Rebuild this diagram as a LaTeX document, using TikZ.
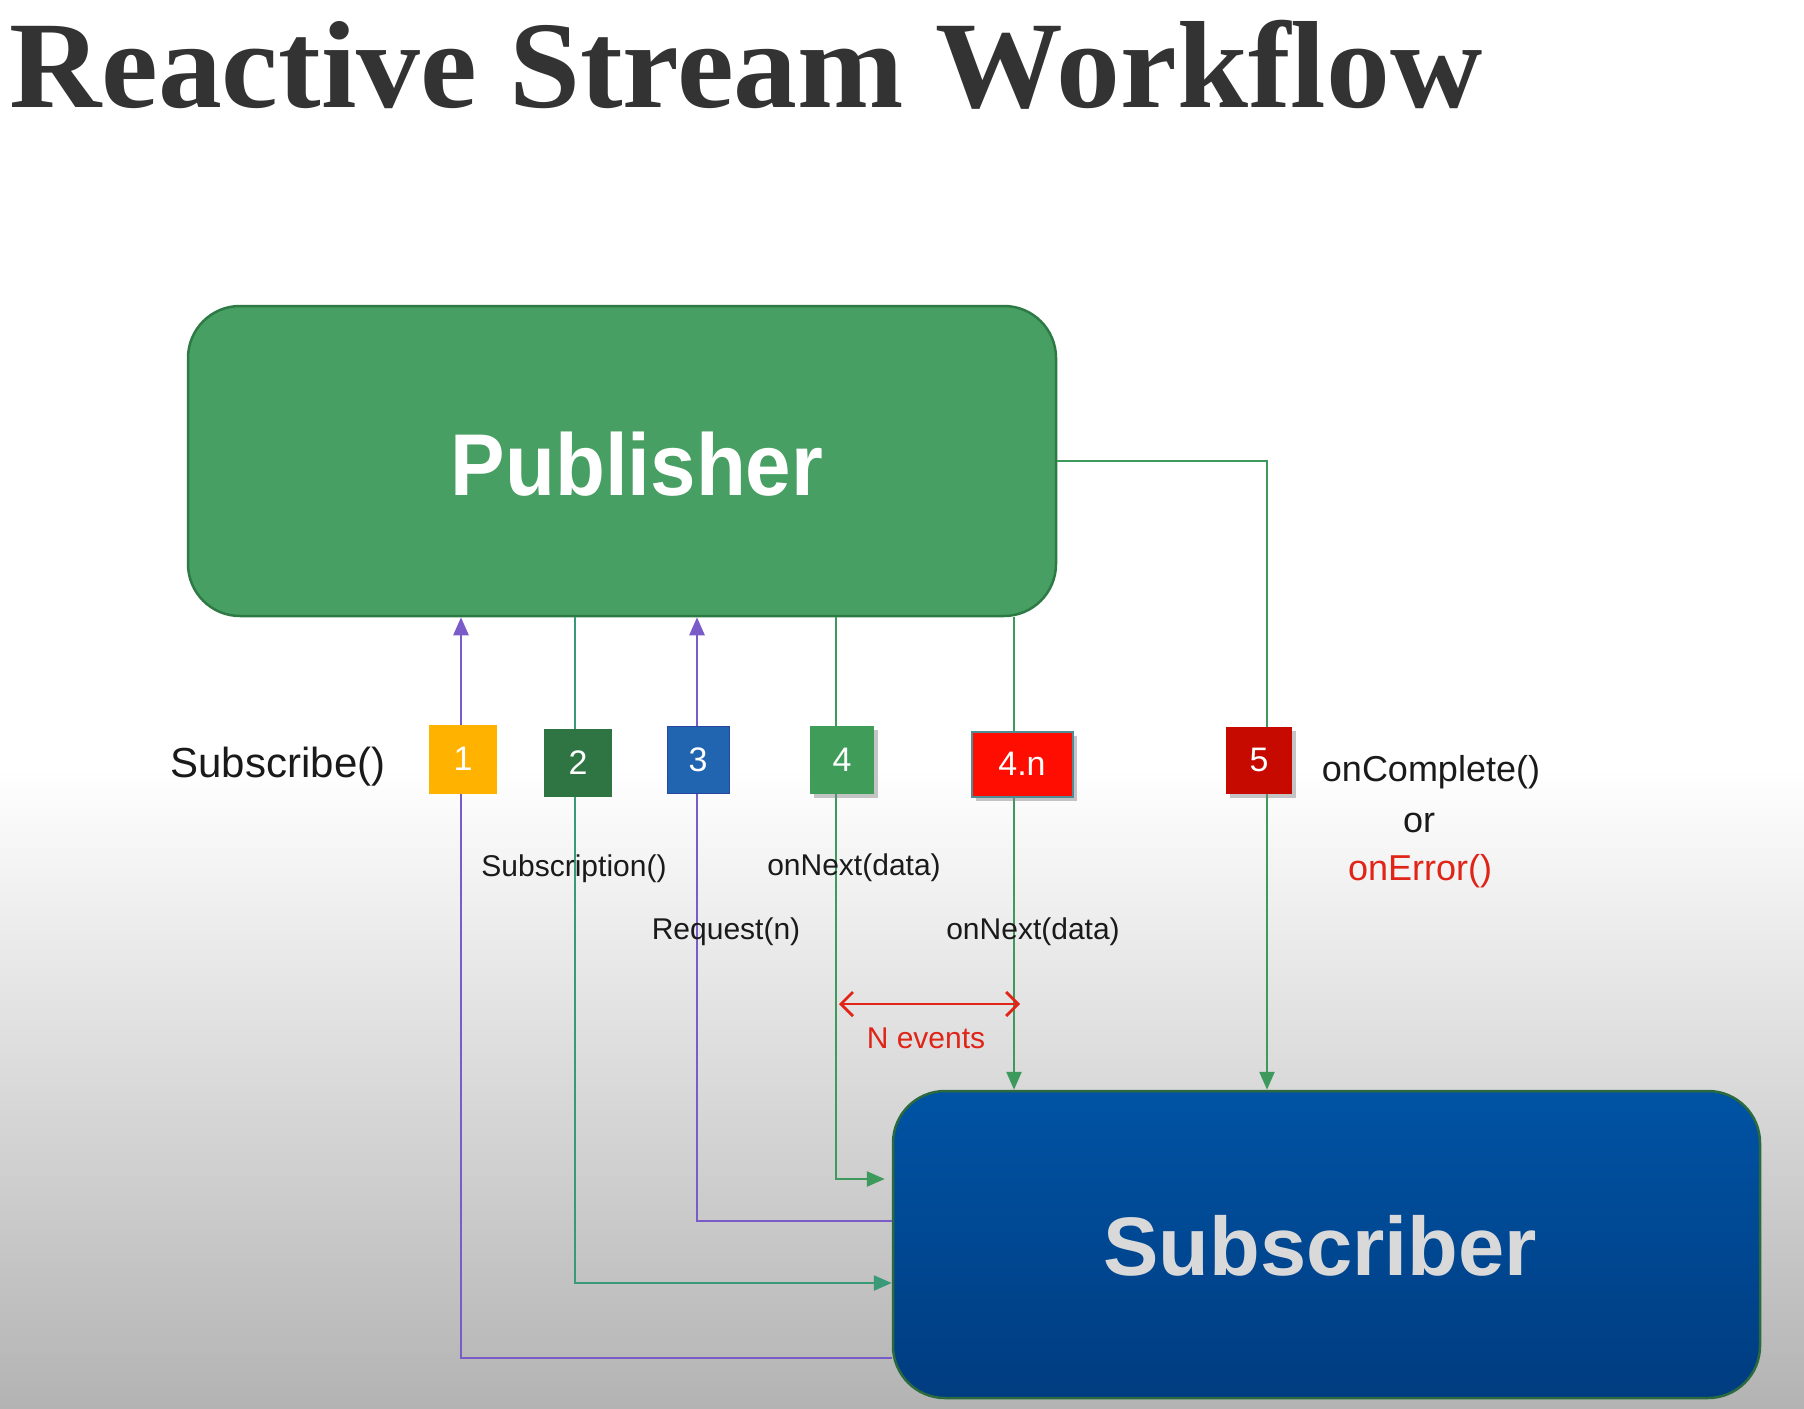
\documentclass[tikz,border=0pt]{standalone}
\usepackage{fontspec}
\setmainfont{Liberation Sans}
\newfontfamily\titlefont{Liberation Serif}
\usetikzlibrary{arrows.meta,shadows}
\newcommand{\setfs}[1]{\fontsize{#1}{#1}\selectfont}

\definecolor{pubfill}{HTML}{489F63}
\definecolor{pubdraw}{HTML}{2E7A45}
\definecolor{subtop}{HTML}{0053A4}
\definecolor{subbot}{HTML}{003C80}
\definecolor{subdraw}{HTML}{2B6A3E}
\definecolor{violline}{HTML}{7A5CC8}
\definecolor{tealline}{HTML}{3A9A78}
\definecolor{grnline}{HTML}{3E9A5C}
\definecolor{bone}{HTML}{FFB300}
\definecolor{btwo}{HTML}{2F7544}
\definecolor{bthree}{HTML}{2164B0}
\definecolor{bfour}{HTML}{3F9D59}
\definecolor{bfourn}{HTML}{FF0D00}
\definecolor{bfive}{HTML}{C70A00}
\definecolor{txtdark}{HTML}{1A1A1A}
\definecolor{txtred}{HTML}{E02418}
\definecolor{titlegray}{HTML}{333333}
\definecolor{bggray}{HTML}{B3B3B3}

\tikzset{
  bigbox/.style={rectangle, rounded corners=52pt, inner sep=0pt, line width=2.5pt},
  badge/.style={rectangle, inner sep=0pt, text=white, font=\setfs{34}},
  shadowed/.style={drop shadow={shadow xshift=4pt, shadow yshift=-4pt, opacity=0.45}},
  label/.style={inner sep=0pt, text=txtdark, font=\setfs{30}},
  flow/.style={line width=2.5pt},
  tip/.style={-{Triangle[length=18pt,width=15pt]}},
}

\begin{document}
\begin{tikzpicture}[x=1pt,y=-1pt]
\useasboundingbox (0,0) rectangle (1804,1408);

% page background: white top fading to grey at the bottom
\fill[white] (0,0) rectangle (1804,770);
\shade[top color=white, bottom color=bggray] (0,769) rectangle (1804,1408);

% title
\node[anchor=base west, inner sep=0pt, text=titlegray] (title) at (9,107)
  {\scalebox{1.03}[1]{\titlefont\bfseries\setfs{124}Reactive Stream Workflow}};

% the two actors
\node[bigbox, fill=pubfill, draw=pubdraw, minimum width=868pt, minimum height=310pt] (pub) at (622,461) {};
\node[text=white, font=\bfseries\setfs{86}, inner sep=0pt] (pubtext) at (637,464)
  {\scalebox{0.95}[1.02]{Publisher}};
\node[bigbox, top color=subtop, bottom color=subbot, draw=subdraw,
      minimum width=867pt, minimum height=307pt] (sub) at (1326.5,1244.5) {};
\node[text={rgb,255:red,217;green,217;blue,217}, font=\bfseries\setfs{83}, inner sep=0pt]
  (subtext) at (1320,1246) {Subscriber};

% x positions of the vertical lanes
\coordinate (c1) at (461,0);
\coordinate (c2) at (575,0);
\coordinate (c3) at (697,0);
\coordinate (c4) at (836,0);
\coordinate (c4n) at (1014,0);
\coordinate (c5) at (1267,0);

% 1: subscribe() from subscriber to publisher
\draw[flow, violline, tip] (sub.west |- 0,1358) -| (c1 |- pub.south);
% 2: subscription() back to subscriber
\draw[flow, tealline, tip] (c2 |- pub.south) |- (sub.west |- 0,1283);
% 3: request(n) from subscriber to publisher
\draw[flow, violline, tip] (sub.west |- 0,1221) -| (c3 |- pub.south);
% 4: first onNext(data)
\draw[flow, grnline, tip, shorten >=7pt] (c4 |- pub.south) |- (sub.west |- 0,1179);
% 4.n: further onNext(data)
\draw[flow, grnline, tip] (c4n |- pub.south) -- (c4n |- sub.north);
% 5: onComplete() / onError()
\draw[flow, grnline, tip] (pub.east) -| (c5 |- sub.north);

% N events span
\coordinate (nl) at (839,1004);
\coordinate (nr) at (1020,1004);
\draw[line width=2.8pt, txtred, {Straight Barb[length=12pt,width=24pt]}-{Straight Barb[length=12pt,width=24pt]}] (nl) -- (nr);
\node[label, text=txtred] (nev) at (926,1038) {N events};

% numbered step badges
\node[badge, fill=bone, minimum width=68pt, minimum height=69pt] (b1) at (463,759) {1};
\node[badge, fill=btwo, minimum width=68pt, minimum height=68pt] (b2) at (578,763) {2};
\node[badge, fill=bthree, draw={rgb,255:red,40;green,70;blue,160}, line width=1pt,
      minimum width=62pt, minimum height=67pt] (b3) at (698,760) {3};
\node[badge, shadowed, fill=bfour, minimum width=64pt, minimum height=68pt] (b4) at (842,760) {4};
\node[badge, shadowed, fill=bfourn, draw={rgb,255:red,80;green,140;blue,150}, line width=2pt,
      minimum width=101pt, minimum height=65pt] (b4n) at (1022,764) {4.n};
\node[badge, shadowed, fill=bfive, minimum width=66pt, minimum height=67pt] (b5) at (1259,760) {5};

% call labels
\node[label, font=\setfs{42}] (lsub) at (278,767) {Subscribe()};
\node[label] (lsubn) at (574,869) {Subscription()};
\node[label] (lreq) at (726,932) {Request(n)};
\node[label] (lnext) at (854,868) {onNext(data)};
\node[label] (lnextn) at (1033,932) {onNext(data)};
\node[label, font=\setfs{36}] (lcomp) at (1431,772) {onComplete()};
\node[label, font=\setfs{36}] (lor) at (1419,823) {or};
\node[label, font=\setfs{36}, text=txtred] (lerr) at (1420,871) {onError()};
\end{tikzpicture}
\end{document}
